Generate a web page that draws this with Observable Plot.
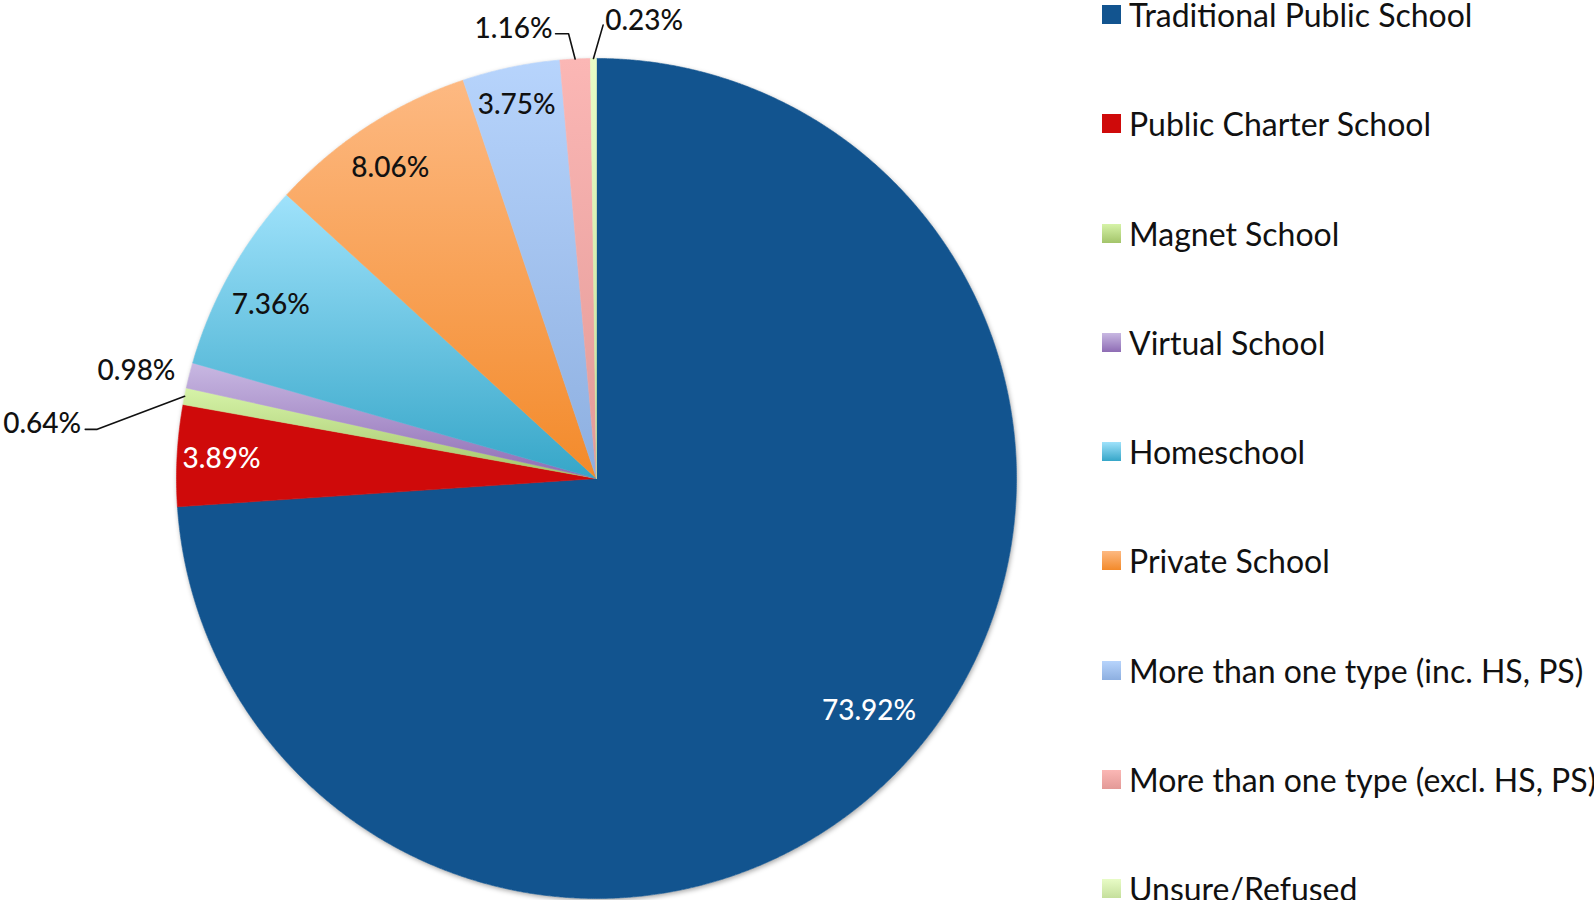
<!DOCTYPE html>
<html>
<head>
<meta charset="utf-8">
<script src="https://cdn.jsdelivr.net/npm/d3@7"></script>
<script src="https://cdn.jsdelivr.net/npm/@observablehq/plot@0.6"></script>
<style>
  html, body { margin: 0; padding: 0; background: #fff; }
  #wrap { position: relative; width: 1594px; height: 900px; overflow: hidden; font-family: Lato, "Noto Sans", sans-serif; }
  #chart { position: absolute; left: 0; top: 0; }
  #legend { position: absolute; left: 0; top: 0; width: 1594px; height: 900px; pointer-events: none; }
  .item { position: absolute; left: 1102px; height: 19px; display: flex; align-items: center; white-space: nowrap; }
  .sw { width: 19px; height: 19px; flex: none; }
  .lbl { margin-left: 8px; font-size: 32px; color: #111; line-height: 19px; }
</style>
</head>
<body>
<div id="wrap"><div id="chart"></div><div id="legend"></div></div>
<script>
// ---- data ----
const categories = [
  "Traditional Public School",
  "Public Charter School",
  "Magnet School",
  "Virtual School",
  "Homeschool",
  "Private School",
  "More than one type (inc. HS, PS)",
  "More than one type (excl. HS, PS)",
  "Unsure/Refused"
];
const values = [73.92, 3.89, 0.64, 0.98, 7.36, 8.06, 3.75, 1.16, 0.23];
const valueLabels = ["73.92%", "3.89%", "0.64%", "0.98%", "7.36%", "8.06%", "3.75%", "1.16%", "0.23%"];

// ---- styles ----
const colorTop    = ["#12548f", "#cf0a0a", "#d6f3a8", "#c8b8e2", "#9fe2fb", "#fdb982", "#b7d4fc", "#fbb7b5", "#e8fcc6"];
const colorBottom = ["#12548f", "#cf0a0a", "#a3c46a", "#8e6cb4", "#36a6c8", "#f38a2a", "#8dafe0", "#e39a97", "#c5df9c"];
const labelColors = ["#fff", "#fff", "#111", "#111", "#111", "#111", "#111", "#111", "#111"];

// label placement: inside labels at insideRadius, small slices outside at outsideRadius, plus pixel nudges
const insideRadius = 0.875;
const outsideRadius = 1.12;
const outsideLabels = new Set(["Magnet School", "Virtual School", "More than one type (excl. HS, PS)", "Unsure/Refused"]);
const labelNudge = {
  "Traditional Public School": [4, -18],
  "Public Charter School": [-8, 1],
  "Homeschool": [-5, 6],
  "Private School": [-6, -2],
  "More than one type (inc. HS, PS)": [-5, -14],
  "Magnet School": [-93, 38],
  "Virtual School": [-4, 8],
  "More than one type (excl. HS, PS)": [-59, 20],
  "Unsure/Refused": [51, 13]
};
const leaders = {
  "Magnet School": [[43, 5], [55, 5]],
  "More than one type (excl. HS, PS)": [[42, 5], [55, 5]],
  "Unsure/Refused": [[-41, 4]]
};

// ---- geometry from values ----
const PX = 420; // pixels per data unit (pie radius = 1)
const arcs = d3.pie().sort(null).value(d => d)(values);
const slices = arcs.map(a => {
  const pts = [{x: 0, y: 0}];
  const n = Math.max(2, Math.ceil((a.endAngle - a.startAngle) / (Math.PI / 720)));
  for (let k = 0; k <= n; k++) {
    const t = a.startAngle + (a.endAngle - a.startAngle) * k / n;
    pts.push({x: Math.sin(t), y: Math.cos(t)});
  }
  pts.push({x: 0, y: 0});
  return pts;
});
const fullCircle = d3.range(0, 721).map(k => ({x: Math.sin(k * Math.PI / 360), y: Math.cos(k * Math.PI / 360)}));

const labelData = arcs.map((a, i) => {
  const mid = (a.startAngle + a.endAngle) / 2;
  const name = categories[i];
  const r = outsideLabels.has(name) ? outsideRadius : insideRadius;
  const nudge = labelNudge[name] || [0, 0];
  const x = r * Math.sin(mid) + nudge[0] / PX;
  const y = r * Math.cos(mid) - nudge[1] / PX;
  return {name, x, y, mid, text: valueLabels[i], color: labelColors[i]};
});

const leaderData = [];
labelData.forEach(l => {
  const offs = leaders[l.name];
  if (!offs) return;
  offs.forEach(o => leaderData.push({name: l.name, x: l.x + o[0] / PX, y: l.y - o[1] / PX}));
  leaderData.push({name: l.name, x: Math.sin(l.mid), y: Math.cos(l.mid)});
});

const marks = [
  Plot.line(fullCircle, {x: "x", y: "y", fill: "#fff", stroke: "none", ariaDescription: "pie-shadow"}),
  ...slices.map((pts, i) => Plot.line(pts, {x: "x", y: "y", fill: `url(#grad${i})`, stroke: `url(#grad${i})`, strokeWidth: 0.6})),
  Plot.line(leaderData, {x: "x", y: "y", z: "name", stroke: "#111", strokeWidth: 1.6}),
  Plot.text(labelData, {x: "x", y: "y", text: "text", fill: "color", fontSize: 28, fontWeight: 500, fontFamily: "Lato, 'Noto Sans', sans-serif"})
];

const chart = Plot.plot({
  width: 1594,
  height: 900,
  margin: 0,
  style: {background: "transparent", overflow: "visible"},
  x: {domain: [-1, 1], range: [176, 1016], axis: null},
  y: {domain: [-1, 1], range: [898, 58], axis: null},
  color: {type: "identity"},
  marks
});

// vertical gradients, one per slice (object bounding box)
const svg = d3.select(chart);
const defs = svg.insert("defs", ":first-child");
categories.forEach((c, i) => {
  const g = defs.append("linearGradient").attr("id", `grad${i}`).attr("x1", 0).attr("y1", 0).attr("x2", 0).attr("y2", 1);
  g.append("stop").attr("offset", "0%").attr("stop-color", colorTop[i]);
  g.append("stop").attr("offset", "100%").attr("stop-color", colorBottom[i]);
});
svg.selectAll('g[aria-description="pie-shadow"]').style("filter", "drop-shadow(1px 2px 2.5px rgba(0,0,0,0.35))");

document.getElementById("chart").appendChild(chart);

// ---- legend ----
const legend = d3.select("#legend");
categories.forEach((c, i) => {
  const item = legend.append("div").attr("class", "item").style("top", (5 + i * 109.25) + "px");
  item.append("div").attr("class", "sw").style("background", `linear-gradient(to bottom, ${colorTop[i]}, ${colorBottom[i]})`);
  item.append("div").attr("class", "lbl").text(c);
});
</script>
</body>
</html>
